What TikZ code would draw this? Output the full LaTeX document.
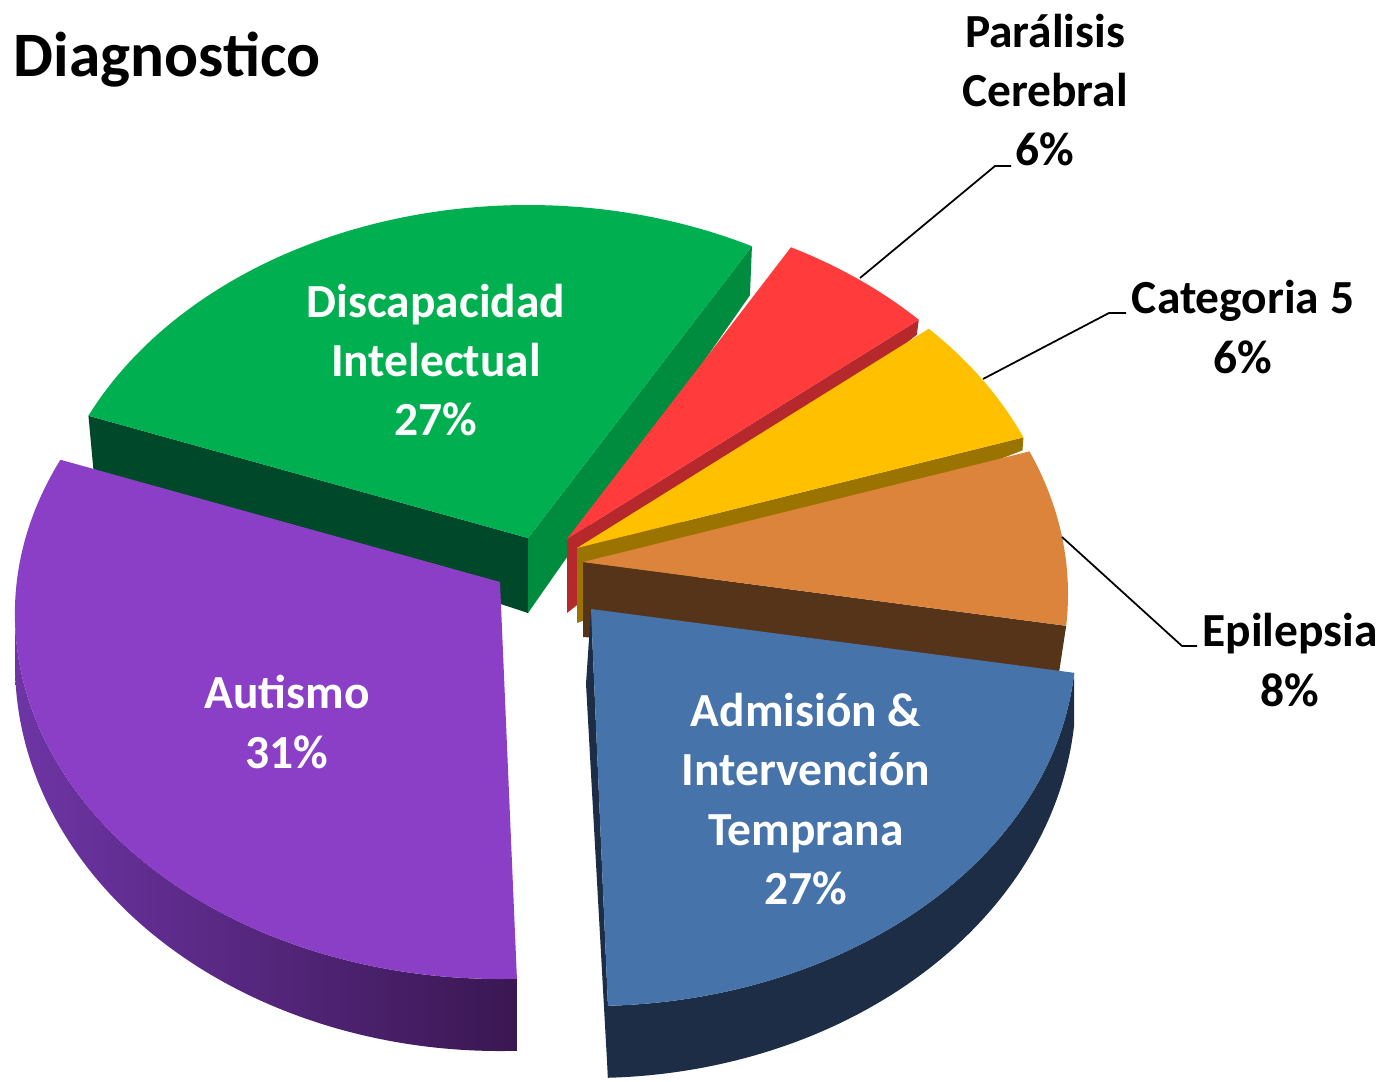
\documentclass[tikz,border=0pt]{standalone}
\usepackage{fontspec}
\setmainfont{Carlito}
\usetikzlibrary{calc}

\definecolor{digreen}{HTML}{00B050}
\definecolor{digreenD}{HTML}{00482A}
\definecolor{digreenM}{HTML}{008C3E}
\definecolor{pcred}{HTML}{FF3B3B}
\definecolor{pcredD}{HTML}{B5282C}
\definecolor{cyellow}{HTML}{FFC000}
\definecolor{cyellowD}{HTML}{9A7300}
\definecolor{eporange}{HTML}{DC843C}
\definecolor{eporangeD}{HTML}{56341A}
\definecolor{adblue}{HTML}{4673AA}
\definecolor{adblueD}{HTML}{1C2D45}
\definecolor{aupurple}{HTML}{8B3FC7}
\definecolor{aupurpleL}{HTML}{6E35A5}
\definecolor{aupurpleD}{HTML}{3A1752}

\begin{document}
\begin{tikzpicture}[x=0.01cm,y=0.01cm,
	inlabel/.style={text=white,font=\bfseries\fontsize{13.5}{16.8}\selectfont,align=center,inner sep=0},
	outlabel/.style={text=black,font=\bfseries\fontsize{13.5}{16.8}\selectfont,align=center,inner sep=0},
	leader/.style={draw=black,line width=0.5pt}]
	\useasboundingbox (0,0) rectangle (1383,1081);
	% apex and ellipse centre of every slice
	\coordinate (diA) at (528,543);
	\coordinate (diE) at (528,511);
	\coordinate (pcA) at (567,542);
	\coordinate (pcE) at (567,510);
	\coordinate (c5A) at (577,533);
	\coordinate (c5E) at (577,501);
	\coordinate (epA) at (583,519);
	\coordinate (epE) at (583,487);
	\coordinate (adA) at (591,472);
	\coordinate (adE) at (591,440);
	\coordinate (auA) at (500,499);
	\coordinate (auE) at (500,467);
	% rim points
	\coordinate (diR1) at ($(diE)+(62.5:485 and 365)$);
	\coordinate (diR2) at ($(diE)+(155:485 and 365)$);
	\coordinate (pcR1) at ($(pcE)+(43.5:485 and 365)$);
	\coordinate (c5R1) at ($(c5E)+(23:485 and 365)$);
	\coordinate (epR1) at ($(epE)+(-5:485 and 365)$);
	\coordinate (adR1) at ($(adE)+(-5:485 and 365)$);
	\coordinate (adR2) at ($(adE)+(-88:485 and 365)$);
	\coordinate (auR1) at ($(auE)+(155:485 and 365)$);
	\coordinate (auR2) at ($(auE)+(180:485 and 365)$);

	% side faces
	\fill[digreenD] (diA) -- (diR2) -- ++(5,-54) -- ($(diA)+(0,-75)$) -- cycle;
	\fill[digreenM] (diA) -- (diR1) -- ++(-2,-49) -- ($(diA)+(0,-75)$) -- cycle;
	\fill[pcredD] (pcA) -- (pcR1) -- ++(-2,-15) -- ($(pcA)+(0,-74)$) -- cycle;
	\fill[cyellowD] (c5A) -- (c5R1) -- ++(-1,-13) -- ($(c5A)+(0,-75)$) -- cycle;
	\fill[eporangeD] (epA) -- (epR1) -- ++(-7,-46) -- ($(epA)+(0,-75)$) -- cycle;
	\shade[left color=aupurpleL,right color=aupurpleD] (auR2)
		arc[start angle=180,end angle=272,x radius=485,y radius=365]
		-- ($(auE)+(0,-50)+(272:485 and 387)$)
		arc[start angle=272,end angle=180,x radius=485,y radius=387] -- cycle;
	\fill[adblueD] (adA) -- (adR2) -- ++(0,-72) -- ($(adA)+(-5,-75)$) -- cycle;
	\fill[adblueD] (adR2)
		arc[start angle=-88,end angle=-5,x radius=485,y radius=365]
		-- ($(adE)+(0,-50)+(-5:485 and 387)$)
		arc[start angle=-5,end angle=-88,x radius=485,y radius=387] -- cycle;

	% top faces
	\fill[digreen] (diA) -- (diR1) arc[start angle=62.5,end angle=155,x radius=485,y radius=365] -- cycle;
	\fill[pcred] (pcA) -- (pcR1) arc[start angle=43.5,end angle=62.5,x radius=485,y radius=365] -- cycle;
	\fill[cyellow] (c5A) -- (c5R1) arc[start angle=23,end angle=43.5,x radius=485,y radius=365] -- cycle;
	\fill[eporange] (epA) -- (epR1) arc[start angle=-5,end angle=23,x radius=485,y radius=365] -- cycle;
	\fill[aupurple] (auA) -- (auR1) arc[start angle=155,end angle=272,x radius=485,y radius=365] -- cycle;
	\fill[adblue] (adA) -- (adR2) arc[start angle=-88,end angle=-5,x radius=485,y radius=365] -- cycle;

	% labels
	\node[anchor=base west,inner sep=0,font=\bfseries\fontsize{18}{21}\selectfont] (title) at (13,1004) {Diagnostico};
	\node[inlabel] (di) at (436,721) {Discapacidad\\Intelectual\\27\%};
	\node[inlabel] (au) at (287,359) {Autismo\\31\%};
	\node[inlabel] (ad) at (806,282) {Admisión \&\\Intervención\\Temprana\\27\%};
	\node[outlabel] (pc) at (1045,991) {Parálisis\\Cerebral\\6\%};
	\node[outlabel] (c5) at (1243,754) {Categoria 5\\6\%};
	\node[outlabel] (ep) at (1290,421) {Epilepsia\\8\%};

	% leader lines
	\coordinate (pcrim) at (860,803);
	\coordinate (pcbend) at (995,915);
	\coordinate (pcend) at (1011,915);
	\coordinate (c5rim) at (983,702);
	\coordinate (c5bend) at (1109,768);
	\coordinate (c5end) at (1126,768);
	\coordinate (eprim) at (1062,544);
	\coordinate (epbend) at (1182,435);
	\coordinate (epend) at (1197,435);
	\draw[leader] (pcrim) -- (pcbend) -- (pcend);
	\draw[leader] (c5rim) -- (c5bend) -- (c5end);
	\draw[leader] (eprim) -- (epbend) -- (epend);
\end{tikzpicture}
\end{document}
